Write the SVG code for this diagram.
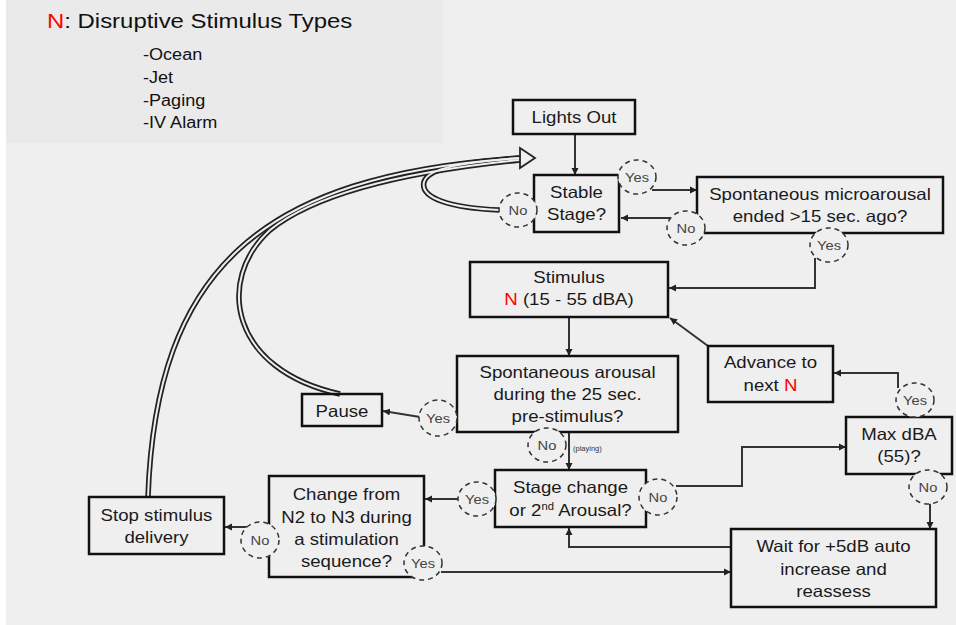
<svg xmlns="http://www.w3.org/2000/svg" width="956" height="625" viewBox="0 0 956 625">
<defs>
<style>
.t{font-family:"Liberation Sans",Arial,sans-serif;font-size:16.5px;fill:#1a1a1a;text-anchor:middle}
.yn{font-family:"Liberation Sans",Arial,sans-serif;font-size:13px;fill:#444;text-anchor:middle}
.box{fill:none;stroke:#111;stroke-width:2.5}
.dc{fill:#efefef;stroke:#333;stroke-width:1.5;stroke-dasharray:5 4}
.c{fill:none;stroke:#333;stroke-width:2;marker-end:url(#ah)}
.dbl{fill:none;stroke:#222;stroke-width:5.5}
.dbli{fill:none;stroke:#efefef;stroke-width:2}
.red{fill:#ff0000}
</style>
<marker id="ah" markerUnits="userSpaceOnUse" markerWidth="8" markerHeight="8" refX="7" refY="4" orient="auto">
<path d="M0,0.5 L7,4 L0,7.5 z" fill="#222"/>
</marker>
</defs>
<rect x="0" y="0" width="956" height="625" fill="#efefef"/>
<rect x="0" y="0" width="6" height="625" fill="#ffffff"/>
<rect x="6" y="0" width="437" height="143" fill="#eaeaea"/>

<g id="legend">
<text transform="translate(47,28) scale(1.14,1)" style="font-family:'Liberation Sans',Arial,sans-serif;font-size:21px;fill:#111"><tspan class="red">N</tspan>: Disruptive Stimulus Types</text>
<g style="font-family:'Liberation Sans',Arial,sans-serif;font-size:16px;fill:#111">
<text transform="translate(143,60) scale(1.13,1)">-Ocean</text>
<text transform="translate(143,83) scale(1.13,1)">-Jet</text>
<text transform="translate(143,106) scale(1.13,1)">-Paging</text>
<text transform="translate(143,128) scale(1.13,1)">-IV Alarm</text>
</g>
</g>

<g id="connectors">
<path class="dbl" d="M148,497 C156,270 260,175 520,158"/>
<path class="dbl" d="M340,394 C230,370 215,280 270,230 C320,190 420,170 520,160"/>
<path class="dbl" d="M500,210 C450,208 420,198 424,182 C428,168 460,163 520,158"/>
<path class="dbli" d="M148,497 C156,270 260,175 520,158"/>
<path class="dbli" d="M340,394 C230,370 215,280 270,230 C320,190 420,170 520,160"/>
<path class="dbli" d="M500,210 C450,208 420,198 424,182 C428,168 460,163 520,158"/>
<polygon points="520,148 535,158 520,168" fill="#efefef" stroke="#222" stroke-width="1.8"/>
<path class="c" d="M575,134 L575,175"/>
<path class="c" d="M652,190 L697,190"/>
<path class="c" d="M670,218 L621,218"/>
<path class="c" d="M815,258 L815,288 L669,288"/>
<path class="c" d="M708,346 L670,318"/>
<path class="c" d="M569,317 L569,356"/>
<path class="c" d="M420,417 L383,411"/>
<path class="c" d="M569,432 L569,470"/>
<path class="c" d="M459,499 L425,499"/>
<path class="c" d="M676,486 L742,486 L742,447 L846,447"/>
<path class="c" d="M898,388 L898,373 L834,373"/>
<path class="c" d="M930,502 L930,529"/>
<path class="c" d="M731,547 L569,547 L569,528"/>
<path class="c" d="M441,572 L731,572"/>
<path class="c" d="M248,527 L225,527"/>
</g>

<g id="lights-out">
<rect class="box" x="513" y="100" width="122" height="34"/>
<text class="t" transform="translate(574,0) scale(1.13,1)"><tspan x="0" y="123">Lights Out</tspan></text>
</g>
<g id="stable-stage">
<rect class="box" x="534" y="175" width="85" height="57"/>
<text class="t" transform="translate(576.5,0) scale(1.13,1)"><tspan x="0" y="198">Stable</tspan><tspan x="0" y="220">Stage?</tspan></text>
</g>
<g id="microarousal">
<rect class="box" x="697" y="177" width="246" height="56"/>
<text class="t" transform="translate(820,0) scale(1.13,1)"><tspan x="0" y="200">Spontaneous microarousal</tspan><tspan x="0" y="222">ended &gt;15 sec. ago?</tspan></text>
</g>
<g id="stimulus">
<rect class="box" x="470" y="262" width="198" height="55"/>
<text class="t" transform="translate(569,0) scale(1.13,1)"><tspan x="0" y="283">Stimulus</tspan><tspan x="0" y="305"><tspan class="red">N</tspan> (15 - 55 dBA)</tspan></text>
</g>
<g id="spont-arousal">
<rect class="box" x="457" y="356" width="221" height="76"/>
<text class="t" transform="translate(567.5,0) scale(1.13,1)"><tspan x="0" y="378">Spontaneous arousal</tspan><tspan x="0" y="400">during the 25 sec.</tspan><tspan x="0" y="422">pre-stimulus?</tspan></text>
</g>
<g id="pause">
<rect class="box" x="302" y="394" width="80" height="32"/>
<text class="t" transform="translate(342,0) scale(1.13,1)"><tspan x="0" y="417">Pause</tspan></text>
</g>
<g id="advance">
<rect class="box" x="708" y="346" width="125" height="56"/>
<text class="t" transform="translate(770.5,0) scale(1.13,1)"><tspan x="0" y="368">Advance to</tspan><tspan x="0" y="391">next <tspan class="red">N</tspan></tspan></text>
</g>
<g id="max-dba">
<rect class="box" x="846" y="417" width="106" height="57"/>
<text class="t" transform="translate(899,0) scale(1.13,1)"><tspan x="0" y="440">Max dBA</tspan><tspan x="0" y="462">(55)?</tspan></text>
</g>
<g id="stage-change">
<rect class="box" x="495" y="470" width="151" height="57"/>
<text class="t" transform="translate(570.5,0) scale(1.13,1)"><tspan x="0" y="493">Stage change</tspan><tspan x="0" y="516">or 2<tspan font-size="10" baseline-shift="super">nd</tspan> Arousal?</tspan></text>
</g>
<g id="wait">
<rect class="box" x="731" y="529" width="205" height="78"/>
<text class="t" transform="translate(833.5,0) scale(1.13,1)"><tspan x="0" y="552">Wait for +5dB auto</tspan><tspan x="0" y="575">increase and</tspan><tspan x="0" y="597">reassess</tspan></text>
</g>
<g id="change-n2-n3">
<rect class="box" x="269" y="476" width="155" height="101"/>
<text class="t" transform="translate(346.5,0) scale(1.13,1)"><tspan x="0" y="500">Change from</tspan><tspan x="0" y="523">N2 to N3 during</tspan><tspan x="0" y="545">a stimulation</tspan><tspan x="0" y="567">sequence?</tspan></text>
</g>
<g id="stop">
<rect class="box" x="89" y="497" width="135" height="57"/>
<text class="t" transform="translate(156.5,0) scale(1.13,1)"><tspan x="0" y="521">Stop stimulus</tspan><tspan x="0" y="543">delivery</tspan></text>
</g>

<g id="labels">
<g id="yes-stable"><ellipse class="dc" cx="637" cy="177" rx="19" ry="17"/><text class="yn" transform="translate(637,182) scale(1.13,1)">Yes</text></g>
<g id="no-stable"><ellipse class="dc" cx="518" cy="210" rx="19" ry="17"/><text class="yn" transform="translate(518,215) scale(1.13,1)">No</text></g>
<g id="no-micro"><ellipse class="dc" cx="686" cy="228" rx="19" ry="17"/><text class="yn" transform="translate(686,233) scale(1.13,1)">No</text></g>
<g id="yes-micro"><ellipse class="dc" cx="829" cy="245" rx="19" ry="17"/><text class="yn" transform="translate(829,250) scale(1.13,1)">Yes</text></g>
<g id="yes-pause"><ellipse class="dc" cx="438" cy="418" rx="19" ry="18"/><text class="yn" transform="translate(438,423) scale(1.13,1)">Yes</text></g>
<g id="no-playing"><ellipse class="dc" cx="547" cy="445" rx="19" ry="17"/><text class="yn" transform="translate(547,450) scale(1.13,1)">No</text>
<text transform="translate(573,451)" style="font-family:'Liberation Sans',Arial,sans-serif;font-size:7.5px;fill:#333">(playing)</text></g>
<g id="yes-max"><ellipse class="dc" cx="915" cy="400" rx="19" ry="17"/><text class="yn" transform="translate(915,405) scale(1.13,1)">Yes</text></g>
<g id="no-max"><ellipse class="dc" cx="928" cy="487" rx="19" ry="17"/><text class="yn" transform="translate(928,492) scale(1.13,1)">No</text></g>
<g id="no-stage"><ellipse class="dc" cx="658" cy="497" rx="19" ry="18"/><text class="yn" transform="translate(658,502) scale(1.13,1)">No</text></g>
<g id="yes-stage"><ellipse class="dc" cx="477" cy="499" rx="19" ry="17"/><text class="yn" transform="translate(477,504) scale(1.13,1)">Yes</text></g>
<g id="yes-change"><ellipse class="dc" cx="423" cy="563" rx="19" ry="17"/><text class="yn" transform="translate(423,568) scale(1.13,1)">Yes</text></g>
<g id="no-change"><ellipse class="dc" cx="260" cy="540" rx="19" ry="18"/><text class="yn" transform="translate(260,545) scale(1.13,1)">No</text></g>
</g>
</svg>
